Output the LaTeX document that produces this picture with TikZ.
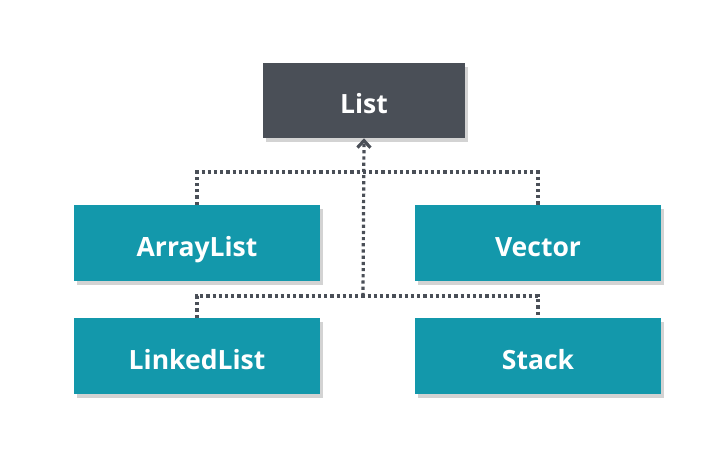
\documentclass[tikz,border=0pt]{standalone}
\usepackage{fontspec}
\setmainfont{Open Sans}
\usetikzlibrary{arrows.meta,shadows}
\definecolor{listgray}{HTML}{4A4F57}
\definecolor{classteal}{HTML}{1398AB}

\begin{document}
\begin{tikzpicture}[x=1pt,y=-1pt,semithick]
  \tikzstyle{every node}=[font=\fontsize{26.5}{30}\selectfont\bfseries,text=white]
  \tikzstyle{box}=[rectangle,minimum width=246pt,minimum height=76pt,inner sep=0pt,
    text height=26pt,text depth=0pt,
    drop shadow={shadow xshift=3pt,shadow yshift=-4pt,opacity=0.35}]
  \tikzstyle{iface}=[box,fill=listgray,minimum width=202pt,minimum height=75pt]
  \tikzstyle{impl}=[box,fill=classteal]
  \tikzstyle{dots}=[draw=listgray,line width=3.2pt,dash pattern=on 3.2pt off 3pt]
  \useasboundingbox (0,0) rectangle (718,451);

  \node[iface] (L)  at (364,100.5) {List};
  \node[impl]  (AL) at (197,243)   {ArrayList};
  \node[impl]  (V)  at (538,243)   {Vector};
  \node[impl]  (LL) at (197,356)   {LinkedList};
  \node[impl]  (S)  at (538,356)   {Stack};

  \coordinate (top) at (363,172);
  \coordinate (mid) at (363,296);

  \path[dots] (AL.north) |- (top) -| (V.north)
              (LL.north) |- (mid) -| (S.north);
  \draw[dots,-{Straight Barb[length=7pt,width=13pt,line width=3.2pt]}]
    (mid) -- (L.south);
\end{tikzpicture}
\end{document}
